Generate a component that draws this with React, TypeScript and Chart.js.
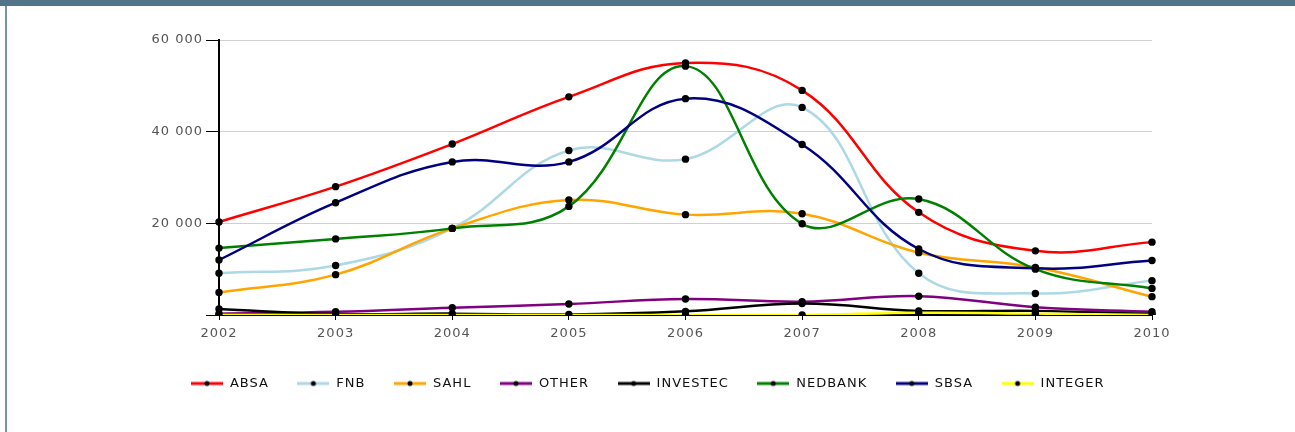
import React, { useEffect, useRef } from 'react';
import { Chart, registerables } from 'chart.js';

Chart.register(...registerables);

const years = ['2002', '2003', '2004', '2005', '2006', '2007', '2008', '2009', '2010'];

const absa = [20300, 28000, 37300, 47600, 55000, 49000, 22400, 14000, 15900];
const fnb = [9100, 10800, 18900, 35900, 34000, 45300, 9100, 4700, 7500];
const sahl = [4900, 8800, 18900, 25100, 21900, 22100, 13600, 10400, 4000];
const other = [300, 700, 1600, 2400, 3500, 2900, 4100, 1700, 700];
const investec = [1300, 200, 300, 100, 800, 2500, 900, 900, 200];
const nedbank = [14600, 16600, 18900, 23700, 54300, 19900, 25300, 10000, 5800];
const sbsa = [12000, 24500, 33400, 33400, 47200, 37200, 14400, 10200, 11900];
const integer = [0, 0, 0, 0, 0, 0, 500, 300, 0];

const seriesNames = ['ABSA', 'FNB', 'SAHL', 'OTHER', 'INVESTEC', 'NEDBANK', 'SBSA', 'INTEGER'];
const seriesValues = [absa, fnb, sahl, other, investec, nedbank, sbsa, integer];
const seriesColors = ['#ff0000', '#add8e6', '#ffa500', '#800080', '#000000', '#008000', '#000080', '#ffff00'];

const yTicks = [0, 20000, 40000, 60000];

function makeMarker(color: string) {
  const c = document.createElement('canvas');
  c.width = 32;
  c.height = 10;
  const g = c.getContext('2d')!;
  g.strokeStyle = color;
  g.lineWidth = 3;
  g.beginPath();
  g.moveTo(0, 5);
  g.lineTo(32, 5);
  g.stroke();
  g.fillStyle = '#000';
  g.beginPath();
  g.arc(16, 5, 2.5, 0, Math.PI * 2);
  g.fill();
  return c;
}

const spacingPlugin = {
  id: 'spacing',
  beforeLayout(chart: any) {
    chart.ctx.letterSpacing = '1px';
  },
  beforeDraw(chart: any) {
    chart.ctx.letterSpacing = '1px';
  },
};

function fmt(v: number) {
  return String(v).replace(/\B(?=(\d{3})+(?!\d))/g, ' ');
}

export default function App() {
  const ref = useRef<HTMLCanvasElement | null>(null);

  useEffect(() => {
    if (!ref.current) return;
    const markers = seriesColors.map(makeMarker);
    const chart = new Chart(ref.current, {
      type: 'line',
      data: {
        labels: years,
        datasets: seriesNames.map((name, i) => ({
          label: name,
          data: seriesValues[i],
          borderColor: seriesColors[i],
          backgroundColor: seriesColors[i],
          borderWidth: 2.5,
          pointRadius: 3.7,
          pointBackgroundColor: '#000',
          pointBorderColor: '#000',
          pointBorderWidth: 0,
          tension: 0.4,
          fill: false,
          order: seriesNames.length - 1 - i,
        })),
      },
      options: {
        animation: false,
        responsive: false,
        maintainAspectRatio: false,
        layout: { padding: { left: 0, right: 0, top: 40, bottom: 32 } },
        plugins: {
          tooltip: { enabled: false },
          legend: {
            position: 'bottom',
            labels: {
              usePointStyle: true,
              pointStyleWidth: 33,
              padding: 28,
              color: '#111',
              font: { family: 'DejaVu Sans', size: 13 },
              generateLabels: (ch: any) =>
                ch.data.datasets.map((ds: any, i: number) => ({
                  text: ds.label,
                  pointStyle: markers[i],
                  fillStyle: seriesColors[i],
                  strokeStyle: seriesColors[i],
                  lineWidth: 0,
                  hidden: false,
                  datasetIndex: i,
                  fontColor: '#111',
                })),
            },
          },
        },
        scales: {
          x: {
            grid: { display: true, drawOnChartArea: false, tickLength: 5, tickColor: '#000' },
            border: { color: '#000', width: 2 },
            ticks: {
              color: '#555',
              padding: 6,
              maxRotation: 0,
              autoSkip: false,
              font: { family: 'DejaVu Sans', size: 13 },
            },
            afterFit: (s: any) => {
              s.height = 34;
            },
          },
          y: {
            min: 0,
            max: 60000,
            afterBuildTicks: (s: any) => {
              s.ticks = yTicks.map((v) => ({ value: v }));
            },
            grid: { color: '#d0d0d0', tickLength: 13, tickColor: '#000', lineWidth: 1 },
            border: { color: '#000', width: 2 },
            ticks: {
              color: '#555',
              padding: 3,
              font: { family: 'DejaVu Sans', size: 13 },
              callback: (v: any) => (Number(v) === 0 ? '' : fmt(Number(v))),
            },
            afterFit: (s: any) => {
              s.width = 219;
            },
          },
          yRight: {
            position: 'right',
            display: true,
            grid: { display: false },
            border: { display: false },
            ticks: { display: false },
            afterFit: (s: any) => {
              s.width = 143;
            },
          },
        },
      },
      plugins: [spacingPlugin],
    } as any);
    return () => chart.destroy();
  }, []);

  return (
    <div
      style={{
        position: 'fixed',
        left: 0,
        top: 0,
        width: 1295,
        height: 432,
        background: '#fff',
        overflow: 'hidden',
      }}
    >
      <div style={{ position: 'absolute', left: 0, top: 0, width: '100%', height: 6, background: '#527489' }} />
      <div style={{ position: 'absolute', left: 5, top: 6, width: 2, bottom: 0, background: '#7893a4' }} />
      <canvas ref={ref} width={1295} height={432} style={{ position: 'absolute', left: 0, top: 0, width: 1295, height: 432 }} />
    </div>
  );
}
